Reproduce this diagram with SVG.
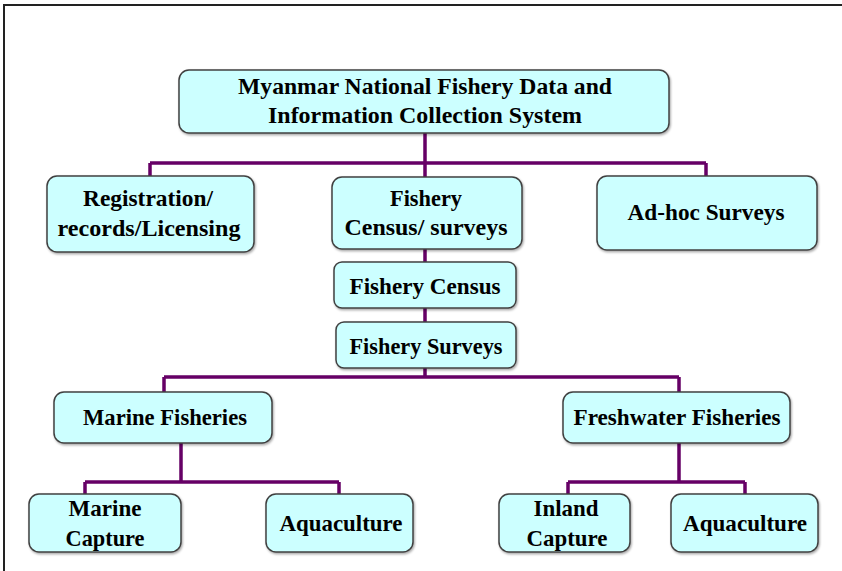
<svg xmlns="http://www.w3.org/2000/svg" width="842" height="571" viewBox="0 0 842 571">
<style>
.box{fill:#CCFFFF;stroke:#404040;stroke-width:1.5}
.lbl{font-family:"Liberation Serif","Times New Roman",serif;font-weight:bold;font-size:23px;fill:#000;text-anchor:middle}
.conn{fill:none;stroke:#660066;stroke-width:3.5}
</style>
<defs>
<filter id="sh" x="-5%" y="-5%" width="110%" height="120%"><feDropShadow dx="1" dy="1.5" stdDeviation="1" flood-color="#000" flood-opacity="0.35"/></filter>
</defs>
<rect x="0" y="0" width="842" height="571" fill="#fff"/>
<path d="M4,571 V5 H842" fill="none" stroke="#222" stroke-width="2"/>
<g id="connectors">
<path class="conn" d="M425,133 V163 M150,163 H706 M150,163 V177 M425,163 V177 M706,163 V177"/>
<path class="conn" d="M425,249 V262 M425,308 V322"/>
<path class="conn" d="M425,368 V377 M164,377 H679 M164,377 V392 M679,377 V392"/>
<path class="conn" d="M181,443 V482 M85,482 H339 M85,482 V494 M339,482 V494"/>
<path class="conn" d="M679,443 V482 M568,482 H745 M568,482 V494 M745,482 V494"/>
</g>
<g id="root"><rect class="box" filter="url(#sh)" x="179" y="70" width="490" height="63" rx="10"/>
<text class="lbl" x="425" y="94" textLength="374" lengthAdjust="spacingAndGlyphs">Myanmar National Fishery Data and</text>
<text class="lbl" x="425" y="123" textLength="314" lengthAdjust="spacingAndGlyphs">Information Collection System</text></g>
<g id="registration"><rect class="box" filter="url(#sh)" x="47" y="176" width="207" height="76" rx="10"/>
<text class="lbl" x="148" y="206" textLength="130" lengthAdjust="spacingAndGlyphs">Registration/</text>
<text class="lbl" x="149" y="236" textLength="183" lengthAdjust="spacingAndGlyphs">records/Licensing</text></g>
<g id="census-surveys"><rect class="box" filter="url(#sh)" x="332" y="177" width="190" height="72" rx="10"/>
<text class="lbl" x="426" y="206" textLength="72" lengthAdjust="spacingAndGlyphs">Fishery</text>
<text class="lbl" x="426" y="235" textLength="163" lengthAdjust="spacingAndGlyphs">Census/ surveys</text></g>
<g id="adhoc"><rect class="box" filter="url(#sh)" x="597" y="176" width="220" height="74" rx="10"/>
<text class="lbl" x="706" y="220" textLength="157" lengthAdjust="spacingAndGlyphs">Ad-hoc Surveys</text></g>
<g id="fishery-census"><rect class="box" filter="url(#sh)" x="334" y="262" width="182" height="46" rx="8"/>
<text class="lbl" x="425" y="294" textLength="151" lengthAdjust="spacingAndGlyphs">Fishery Census</text></g>
<g id="fishery-surveys"><rect class="box" filter="url(#sh)" x="336" y="322" width="180" height="46" rx="8"/>
<text class="lbl" x="426" y="354" textLength="153" lengthAdjust="spacingAndGlyphs">Fishery Surveys</text></g>
<g id="marine"><rect class="box" filter="url(#sh)" x="54" y="392" width="218" height="51" rx="10"/>
<text class="lbl" x="165" y="425" textLength="164" lengthAdjust="spacingAndGlyphs">Marine Fisheries</text></g>
<g id="freshwater"><rect class="box" filter="url(#sh)" x="563" y="392" width="227" height="51" rx="10"/>
<text class="lbl" x="677" y="425" textLength="207" lengthAdjust="spacingAndGlyphs">Freshwater Fisheries</text></g>
<g id="marine-capture"><rect class="box" filter="url(#sh)" x="29" y="494" width="152" height="58" rx="10"/>
<text class="lbl" x="105" y="516" textLength="73" lengthAdjust="spacingAndGlyphs">Marine</text>
<text class="lbl" x="105" y="546" textLength="79" lengthAdjust="spacingAndGlyphs">Capture</text></g>
<g id="marine-aquaculture"><rect class="box" filter="url(#sh)" x="266" y="494" width="147" height="58" rx="10"/>
<text class="lbl" x="341" y="531" textLength="123" lengthAdjust="spacingAndGlyphs">Aquaculture</text></g>
<g id="inland-capture"><rect class="box" filter="url(#sh)" x="499" y="494" width="131" height="58" rx="10"/>
<text class="lbl" x="566" y="516" textLength="65" lengthAdjust="spacingAndGlyphs">Inland</text>
<text class="lbl" x="567" y="546" textLength="81" lengthAdjust="spacingAndGlyphs">Capture</text></g>
<g id="fresh-aquaculture"><rect class="box" filter="url(#sh)" x="671" y="494" width="147" height="58" rx="10"/>
<text class="lbl" x="745" y="531" textLength="124" lengthAdjust="spacingAndGlyphs">Aquaculture</text></g>
</svg>
